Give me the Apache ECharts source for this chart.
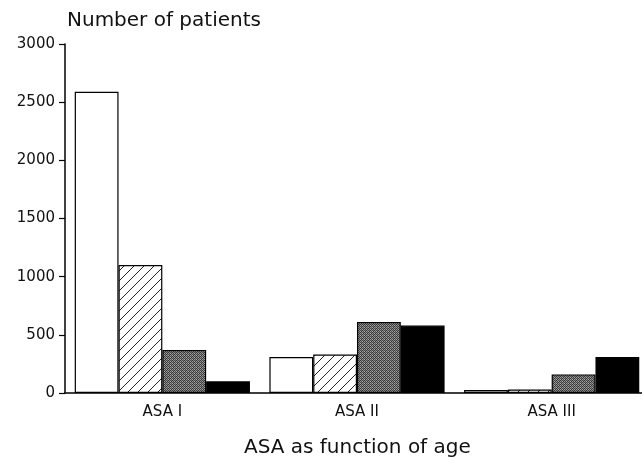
<!DOCTYPE html>
<html>
<head>
<meta charset="utf-8">
<script src="https://cdn.jsdelivr.net/npm/echarts@6/dist/echarts.min.js"></script>
<style>
  html, body { margin: 0; padding: 0; background: #fff; }
  #chart { width: 642px; height: 458px; }
</style>
</head>
<body>
<div id="chart"></div>
<script>
// categories and values
var categories = ['ASA I', 'ASA II', 'ASA III'];
var group1 = [2590, 310, 25];   // open bars
var group2 = [1100, 330, 30];   // hatched bars
var group3 = [370, 610, 160];   // stippled grey bars
var group4 = [100, 580, 310];   // solid black bars
var yTicks = [0, 500, 1000, 1500, 2000, 2500, 3000];

// fill patterns
var hatch = document.createElement('canvas');
hatch.width = 10; hatch.height = 10;
(function () {
  var c = hatch.getContext('2d');
  c.fillStyle = '#fff';
  c.fillRect(0, 0, 10, 10);
  c.strokeStyle = '#222';
  c.lineWidth = 1;
  c.beginPath();
  c.moveTo(-1, 11); c.lineTo(11, -1);
  c.moveTo(-6, 6); c.lineTo(6, -6);
  c.moveTo(4, 16); c.lineTo(16, 4);
  c.stroke();
})();

var stipple = document.createElement('canvas');
stipple.width = 4; stipple.height = 4;
(function () {
  var c = stipple.getContext('2d');
  var shades = [
    ['#333', '#888', '#444', '#777'],
    ['#999', '#444', '#aaa', '#333'],
    ['#444', '#777', '#333', '#888'],
    ['#aaa', '#333', '#999', '#555']
  ];
  for (var y = 0; y < 4; y++) {
    for (var x = 0; x < 4; x++) {
      c.fillStyle = shades[y][x];
      c.fillRect(x, y, 1, 1);
    }
  }
})();

var font = 'DejaVu Sans';
var myChart = echarts.init(document.getElementById('chart'));

function bar(name, values, fill) {
  return {
    name: name,
    type: 'bar',
    data: values,
    barGap: '0%',
    barCategoryGap: '10%',
    itemStyle: { color: fill, borderColor: '#000', borderWidth: 1.2 },
    emphasis: { disabled: true }
  };
}

var option = {
  animation: false,
  backgroundColor: '#fff',
  title: [{
    text: 'Number of patients',
    left: 62, top: 6,
    textStyle: { fontFamily: font, fontSize: 20, fontWeight: 'normal', color: '#111' }
  }, {
    text: 'ASA as function of age',
    left: 239, top: 433,
    textStyle: { fontFamily: font, fontSize: 20, fontWeight: 'normal', color: '#111' }
  }],
  grid: { left: 65, top: 44, bottom: 65, width: 584, outerBoundsMode: 'none' },
  xAxis: {
    type: 'category',
    data: categories,
    axisLine: { lineStyle: { color: '#000', width: 1.5 } },
    axisTick: { show: false },
    axisLabel: { margin: 12, fontFamily: font, fontSize: 15, color: '#111' }
  },
  yAxis: {
    type: 'value',
    min: yTicks[0],
    max: yTicks[yTicks.length - 1],
    interval: 500,
    splitLine: { show: false },
    axisLine: { show: true, lineStyle: { color: '#000', width: 1.5 } },
    axisTick: { show: true, length: 6, lineStyle: { color: '#000', width: 1.2 } },
    axisLabel: {
      margin: 10, fontFamily: font, fontSize: 15, color: '#111',
      formatter: function (v) { return String(v); }
    }
  },
  series: [
    bar('Group 1', group1, '#fff'),
    bar('Group 2', group2, { image: hatch, repeat: 'repeat' }),
    bar('Group 3', group3, { image: stipple, repeat: 'repeat' }),
    bar('Group 4', group4, '#000')
  ]
};

myChart.setOption(option);
window.addEventListener('resize', function () {
  myChart.resize();
});
</script>
</body>
</html>
